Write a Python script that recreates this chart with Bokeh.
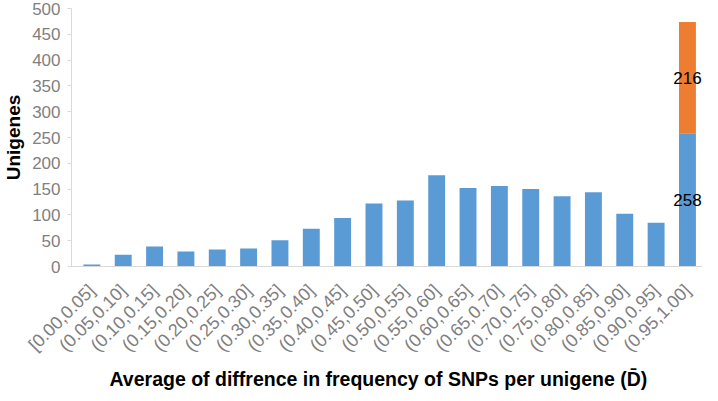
from math import pi
from bokeh.plotting import figure
from bokeh.models import Range1d, FixedTicker, Title, ColumnDataSource, LabelSet
from bokeh.core.properties import value
from bokeh.embed import file_html
from bokeh.resources import INLINE

categories = ["[0.00,0.05]", "(0.05,0.10]", "(0.10,0.15]", "(0.15,0.20]", "(0.20,0.25]",
              "(0.25,0.30]", "(0.30,0.35]", "(0.35,0.40]", "(0.40,0.45]", "(0.45,0.50]",
              "(0.50,0.55]", "(0.55,0.60]", "(0.60,0.65]", "(0.65,0.70]", "(0.70,0.75]",
              "(0.75,0.80]", "(0.80,0.85]", "(0.85,0.90]", "(0.90,0.95]", "(0.95,1.00]"]
blue_counts = [4, 23, 39, 29, 33, 35, 51, 73, 94, 122, 128, 177, 152, 156, 150, 136, 144, 102, 85, 258]
orange_counts = [0, 0, 0, 0, 0, 0, 0, 0, 0, 0, 0, 0, 0, 0, 0, 0, 0, 0, 0, 216]
y_ticks = [0, 50, 100, 150, 200, 250, 300, 350, 400, 450, 500]

positions = list(range(len(categories)))
src = ColumnDataSource(dict(x=positions, blue=blue_counts, orange=orange_counts))

p = figure(width=702, height=397, output_backend="svg", toolbar_location=None, title=None,
           x_range=Range1d(-0.65, 19.48), y_range=Range1d(0, 500),
           min_border_left=68, min_border_right=0, min_border_top=8, min_border_bottom=131)

p.vbar_stack(["blue", "orange"], x="x", width=0.54, source=src,
             color=["#5B9BD5", "#ED7D31"], line_color=None)

# data labels for the stacked last bar
last = len(categories) - 1
lab_src = ColumnDataSource(dict(
    x=[positions[last], positions[last]],
    y=[blue_counts[last] / 2, blue_counts[last] + orange_counts[last] / 2],
    t=[str(blue_counts[last]), str(orange_counts[last])]))
p.add_layout(LabelSet(x="x", y="y", text="t", source=lab_src, text_align="center",
                      text_baseline="middle", text_font_size=value("17px"),
                      text_color=value("#000000"), text_font=value("Liberation Sans")))

p.grid.visible = False
p.outline_line_color = None
p.background_fill_color = "white"
p.border_fill_color = "white"

xa = p.xaxis[0]
xa.ticker = FixedTicker(ticks=positions)
xa.major_label_overrides = {i: c for i, c in zip(positions, categories)}
xa.major_label_orientation = pi / 4
xa.major_tick_line_color = None
xa.minor_tick_line_color = None
xa.axis_line_color = "#d9d9d9"
xa.major_label_text_font = "Liberation Sans"
xa.major_label_text_font_size = "18px"
xa.major_label_text_color = "#7f7f7f"
xa.major_label_standoff = 15

ya = p.yaxis[0]
ya.ticker = FixedTicker(ticks=y_ticks)
ya.axis_line_color = "#d9d9d9"
ya.major_tick_line_color = "#d9d9d9"
ya.major_tick_out = 4
ya.major_tick_in = 0
ya.minor_tick_line_color = None
ya.major_label_text_font = "Liberation Sans"
ya.major_label_text_font_size = "17px"
ya.major_label_text_color = "#7f7f7f"
ya.major_label_standoff = 7
ya.axis_label = "Unigenes"
ya.axis_label_text_font = "Liberation Sans"
ya.axis_label_text_font_style = "bold"
ya.axis_label_text_font_size = "19px"
ya.axis_label_text_color = "#000000"
ya.axis_label_standoff = 5

xt = Title(text="Average of diffrence in frequency of SNPs per unigene (D\u0304)",
           align="left", offset=38, text_font="Liberation Sans", text_font_style="bold",
           text_font_size="19.5px", text_color="#000000", standoff=0)
p.add_layout(xt, "below")

open("out.html", "w").write(file_html(p, INLINE))
